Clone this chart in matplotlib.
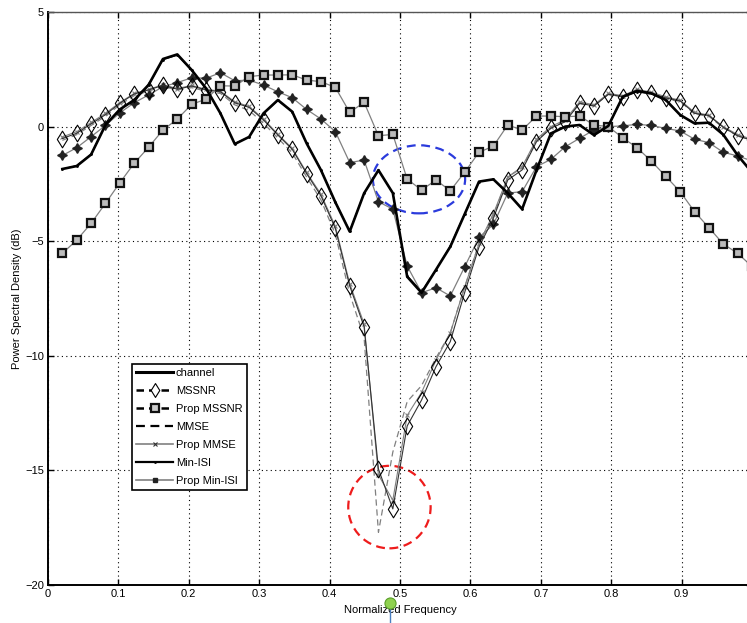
import numpy as np
import matplotlib
matplotlib.use('Agg')
import matplotlib.pyplot as plt
from matplotlib.lines import Line2D
from matplotlib.patches import Ellipse
from matplotlib.path import Path

plt.rcParams['font.family'] = ['Liberation Sans', 'DejaVu Sans']

# Frequency grid (49 bins, spacing 1/49)
freq = np.arange(1, 50) / 49.0

# Power spectral density values (dB)
channel = [-1.85, -1.72, -1.22, 0.07, 0.75, 1.16, 1.82, 2.95, 3.15, 2.47,
           1.67, 0.58, -0.76, -0.45, 0.58, 1.16, 0.65, -0.73, -1.9, -3.3,
           -4.58, -2.91, -1.9, -2.9, -6.55, -7.25, -6.25, -5.24, -3.82, -2.4,
           -2.3, -2.9, -3.6, -1.9, -0.3, 0.0, 0.07, -0.37, 0.03, 1.3,
           1.55, 1.45, 1.16, 0.51, 0.14, 0.17, -0.35, -1.25, -2.0]
mssnr = [-0.52, -0.29, 0.12, 0.52, 1.02, 1.42, 1.60, 1.80, 1.63, 1.77,
         1.60, 1.52, 1.04, 0.84, 0.29, -0.37, -0.99, -2.05, -3.02, -4.44,
         -6.95, -8.73, -14.94, -16.68, -13.06, -11.93, -10.48, -9.38, -7.24, -5.25,
         -4.0, -2.33, -1.89, -0.66, -0.07, 0.21, 1.02, 0.90, 1.41, 1.31,
         1.60, 1.45, 1.25, 1.12, 0.58, 0.48, -0.03, -0.40, -0.60]
prop_mssnr = [-5.53, -4.95, -4.22, -3.35, -2.45, -1.60, -0.90, -0.15, 0.33, 0.97,
              1.20, 1.78, 1.77, 2.18, 2.25, 2.25, 2.26, 2.03, 1.96, 1.71,
              0.62, 1.06, -0.40, -0.34, -2.29, -2.77, -2.33, -2.80, -1.99, -1.12,
              -0.85, 0.07, -0.15, 0.46, 0.46, 0.43, 0.46, 0.07, 0.0, -0.49,
              -0.92, -1.51, -2.17, -2.84, -3.71, -4.41, -5.12, -5.53, -6.1]
mmse = [-0.60, -0.35, 0.05, 0.45, 0.95, 1.35, 1.55, 1.75, 1.60, 1.70,
        1.55, 1.45, 0.95, 0.70, 0.15, -0.50, -1.15, -2.20, -3.20, -4.70,
        -7.30, -9.20, -17.70, -14.20, -12.00, -11.30, -10.10, -9.00, -7.00, -5.10,
        -3.90, -2.20, -1.80, -0.60, -0.05, 0.25, 1.00, 0.90, 1.40, 1.30,
        1.55, 1.40, 1.20, 1.10, 0.55, 0.45, -0.05, -0.40, -0.60]
prop_mmse = [-0.45, -0.22, 0.18, 0.58, 1.05, 1.45, 1.62, 1.83, 1.66, 1.80,
             1.62, 1.55, 1.08, 0.88, 0.33, -0.33, -0.95, -2.00, -2.95, -4.35,
             -6.85, -8.60, -15.20, -16.30, -12.60, -11.60, -10.20, -9.00, -7.00, -5.10,
             -3.80, -2.20, -1.75, -0.55, 0.00, 0.30, 1.08, 0.95, 1.45, 1.35,
             1.63, 1.50, 1.30, 1.15, 0.62, 0.50, 0.00, -0.35, -0.55]
min_isi = [-1.85, -1.70, -1.20, 0.05, 0.75, 1.16, 1.80, 2.92, 3.12, 2.45,
           1.65, 0.58, -0.74, -0.45, 0.56, 1.14, 0.65, -0.73, -1.88, -3.3,
           -4.55, -2.9, -1.9, -2.9, -6.5, -7.2, -6.25, -5.2, -3.8, -2.4,
           -2.3, -2.9, -3.6, -1.9, -0.3, 0.0, 0.07, -0.37, 0.03, 1.28,
           1.53, 1.45, 1.15, 0.5, 0.14, 0.17, -0.35, -1.25, -2.0]
prop_min_isi = [-1.26, -0.92, -0.44, 0.05, 0.60, 1.04, 1.38, 1.74, 1.92, 2.13,
                2.11, 2.35, 2.00, 2.03, 1.81, 1.52, 1.26, 0.75, 0.33, -0.22,
                -1.57, -1.46, -3.28, -3.60, -6.08, -7.25, -7.03, -7.39, -6.12, -4.83,
                -4.27, -2.90, -2.84, -1.75, -1.43, -0.88, -0.51, -0.15, 0.00, 0.03,
                0.10, 0.05, -0.08, -0.19, -0.55, -0.70, -1.12, -1.28, -1.50]

xticks = [0, 0.1, 0.2, 0.3, 0.4, 0.5, 0.6, 0.7, 0.8, 0.9, 1.0]
xticklabels = ['0', '0.1', '0.2', '0.3', '0.4', '0.5', '0.6', '0.7', '0.8', '0.9', '']
yticks = [-20, -15, -10, -5, 0, 5]

gray = '#808080'
diamond = Path([(0, 1), (0.62, 0), (0, -1), (-0.62, 0), (0, 1)],
               [Path.MOVETO, Path.LINETO, Path.LINETO, Path.LINETO, Path.CLOSEPOLY])

fig = plt.figure(figsize=(7.47, 6.23), dpi=100)
ax = fig.add_axes([48/747, 1 - 585/623, 704/747, 573/623])

ax.plot(freq, min_isi, color='black', lw=0.8, marker='.', ms=2)
ax.plot(freq, mmse, color=gray, lw=0.9, ls=(0, (5, 3)))
ax.plot(freq, prop_mmse, color=gray, lw=0.8, marker='x', ms=3, mew=0.8)
ax.plot(freq, prop_min_isi, color=gray, lw=0.9, marker=(4, 1, 0), ms=7,
        mfc='#222222', mec='#222222')
ax.plot(freq, mssnr, color='#333333', lw=0.8, marker=diamond, ms=12,
        mfc='none', mec='black', mew=0.8)
ax.plot(freq, prop_mssnr, color=gray, lw=0.9, marker='s', ms=6,
        mfc='#bbbbbb', mec='#111111', mew=1.6)
ax.plot(freq, channel, color='black', lw=1.9)

# highlight ellipses
ax.add_patch(Ellipse((0.527, -2.3), 0.131, 2.97, fill=False, ec='#2b3bdc',
                     lw=1.6, ls=(0, (4, 2.5))))
ax.add_patch(Ellipse((0.485, -16.6), 0.117, 3.6, fill=False, ec='#ee1c1c',
                     lw=1.6, ls=(0, (4, 2.5))))

ax.set_xlim(0, 1)
ax.set_ylim(-20, 5)
ax.set_xticks(xticks)
ax.set_xticklabels(xticklabels)
ax.set_yticks(yticks)
ax.tick_params(direction='in', top=True, right=True, length=4, width=1,
               labelsize=8, pad=3)
ax.grid(True, color='black', ls=(0, (1, 3)), lw=0.8)
for s in ['left', 'bottom']:
    ax.spines[s].set_linewidth(1.4)
ax.spines['top'].set_linewidth(1.0)
ax.spines['top'].set_color('#555555')

ax.set_xlabel('Normalized Frequency', fontsize=8, labelpad=4)
ax.set_ylabel('Power Spectral Density (dB)', fontsize=8, labelpad=2)

# legend proxies
handles = [
    Line2D([], [], color='black', lw=2.2),
    Line2D([], [], color='black', lw=1.8, ls=(0, (3, 2)), marker=diamond, ms=10,
           mfc='white', mec='black', mew=0.8),
    Line2D([], [], color='black', lw=1.8, ls=(0, (3, 2)), marker='s', ms=6,
           mfc='#cccccc', mec='#111111', mew=1.6),
    Line2D([], [], color='black', lw=1.6, ls=(0, (4, 2.5))),
    Line2D([], [], color=gray, lw=1.2, marker='x', ms=3, mew=0.8, mec='#333333'),
    Line2D([], [], color='black', lw=1.6, marker='.', ms=2),
    Line2D([], [], color=gray, lw=1.2, marker='s', ms=3, mfc='#222222', mec='#222222'),
]
labels = ['channel', 'MSSNR', 'Prop MSSNR', 'MMSE', 'Prop MMSE', 'Min-ISI', 'Prop Min-ISI']
leg = ax.legend(handles, labels, loc='lower left', bbox_to_anchor=(0.119, 0.165),
                fontsize=8, frameon=True, fancybox=False, edgecolor='black',
                framealpha=1, handlelength=3.3, handletextpad=0.25,
                labelspacing=0.72, borderpad=0.4, borderaxespad=0)
leg.get_frame().set_linewidth(1.2)

# pointer marker under the axis
fig.add_artist(Line2D([390/747, 390/747], [1 - 606/623, 0], color='#4a7fc0', lw=1.0))
fig.add_artist(Line2D([390/747], [1 - 603/623], marker='o', ms=8, color='#8fd14f',
                      mec='#5a9e2a', mew=0.8))

fig.savefig('out.png', dpi=100)
